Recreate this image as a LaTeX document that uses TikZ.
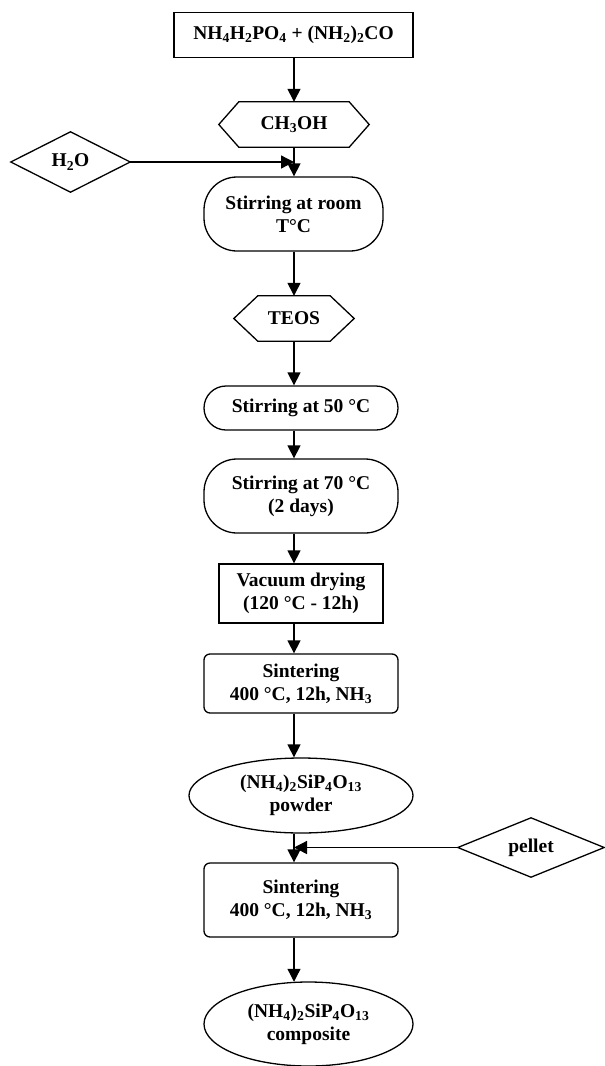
\documentclass[tikz,border=0pt]{standalone}
\usepackage{fontspec}
\setmainfont{Liberation Serif}
\usetikzlibrary{arrows.meta,shapes.geometric,shapes.misc,calc}
\newcommand{\sbs}[1]{\textsubscript{#1}}
\tikzset{
  base/.style={inner sep=0pt, align=center, font=\fontsize{19.5}{23}\selectfont\bfseries},
  plainbox/.style={base, draw, line width=1.3pt, rectangle},
  hidebox/.style={base, rectangle},
  roundbox/.style={base, draw, line width=1.3pt, rectangle, rounded corners=#1},
  ellbox/.style={base, draw, line width=1.3pt, ellipse},
  outline/.style={line width=1.3pt, line join=miter},
  arr/.style={line width=1.3pt, -{Triangle[length=13pt,width=13pt]}}
}
\begin{document}
\begin{tikzpicture}[x=1pt,y=-1pt]
\useasboundingbox (0,0) rectangle (605,1066);
\coordinate (ax) at (294,0);

\node[plainbox, minimum width=239pt, minimum height=45pt] (top) at (293.5,35)
  {NH\sbs{4}H\sbs{2}PO\sbs{4} + (NH\sbs{2})\sbs{2}CO};

\node[hidebox, minimum width=150pt, minimum height=45pt] (ch) at (294,124.5) {CH\sbs{3}OH};
\draw[outline] ([xshift=20pt]ch.north west) -- ([xshift=-20pt]ch.north east) -- (ch.east)
  -- ([xshift=-20pt]ch.south east) -- ([xshift=20pt]ch.south west) -- (ch.west) -- cycle;

\node[hidebox, minimum width=119pt, minimum height=60pt] (h2o) at (70.5,162) {H\sbs{2}O};
\draw[outline] (h2o.west) -- (h2o.north) -- (h2o.east) -- (h2o.south) -- cycle;

\node[roundbox=33pt, minimum width=179pt, minimum height=74pt] (room) at (293.5,214)
  {Stirring at room\\T°C};

\node[hidebox, minimum width=120pt, minimum height=45pt] (teos) at (294,318.5) {TEOS};
\draw[outline] ([xshift=24pt]teos.north west) -- ([xshift=-24pt]teos.north east) -- (teos.east)
  -- ([xshift=-24pt]teos.south east) -- ([xshift=24pt]teos.south west) -- (teos.west) -- cycle;

\node[roundbox=22pt, minimum width=194pt, minimum height=44pt] (s50) at (301,408)
  {Stirring at 50 °C};
\node[roundbox=33pt, minimum width=194pt, minimum height=74pt] (s70) at (301,496)
  {Stirring at 70 °C\\(2 days)};
\node[plainbox, minimum width=164pt, minimum height=59pt] (vac) at (301,593.5)
  {Vacuum drying\\(120 °C - 12h)};
\node[roundbox=6pt, minimum width=194pt, minimum height=59pt] (sin1) at (301,683.5)
  {Sintering\\400 °C, 12h, NH\sbs{3}};
\node[ellbox, minimum width=224pt, minimum height=75pt] (pow) at (301,795.5)
  {(NH\sbs{4})\sbs{2}SiP\sbs{4}O\sbs{13}\\powder};

\node[hidebox, minimum width=146pt, minimum height=59pt] (pel) at (531,847.5) {pellet};
\draw[outline] (pel.west) -- (pel.north) -- (pel.east) -- (pel.south) -- cycle;

\node[roundbox=6pt, minimum width=194pt, minimum height=74pt] (sin2) at (301,900)
  {Sintering\\400 °C, 12h, NH\sbs{3}};
\node[ellbox, minimum width=209pt, minimum height=84pt] (comp) at (308.5,1024)
  {(NH\sbs{4})\sbs{2}SiP\sbs{4}O\sbs{13}\\composite};

\coordinate (j1) at (ax |- h2o.east);
\coordinate (j2) at (ax |- pel.west);

\draw[arr] (top.south -| ax) -- (ch.north -| ax);
\draw[arr] (ch.south -| ax) -- (room.north -| ax);
\draw[arr] (h2o.east) -- (j1);
\draw[arr] (room.south -| ax) -- (teos.north -| ax);
\draw[arr] (teos.south -| ax) -- (s50.north -| ax);
\draw[arr] (s50.south -| ax) -- (s70.north -| ax);
\draw[arr] (s70.south -| ax) -- (vac.north -| ax);
\draw[arr] (vac.south -| ax) -- (sin1.north -| ax);
\draw[arr] (sin1.south -| ax) -- (pow.north -| ax);
\draw[arr] (pow.south -| ax) -- (sin2.north -| ax);
\draw[arr] (pel.west) -- (j2);
\draw[arr] (sin2.south -| ax) -- ([yshift=-0.4pt]comp.north -| ax);
\end{tikzpicture}
\end{document}
